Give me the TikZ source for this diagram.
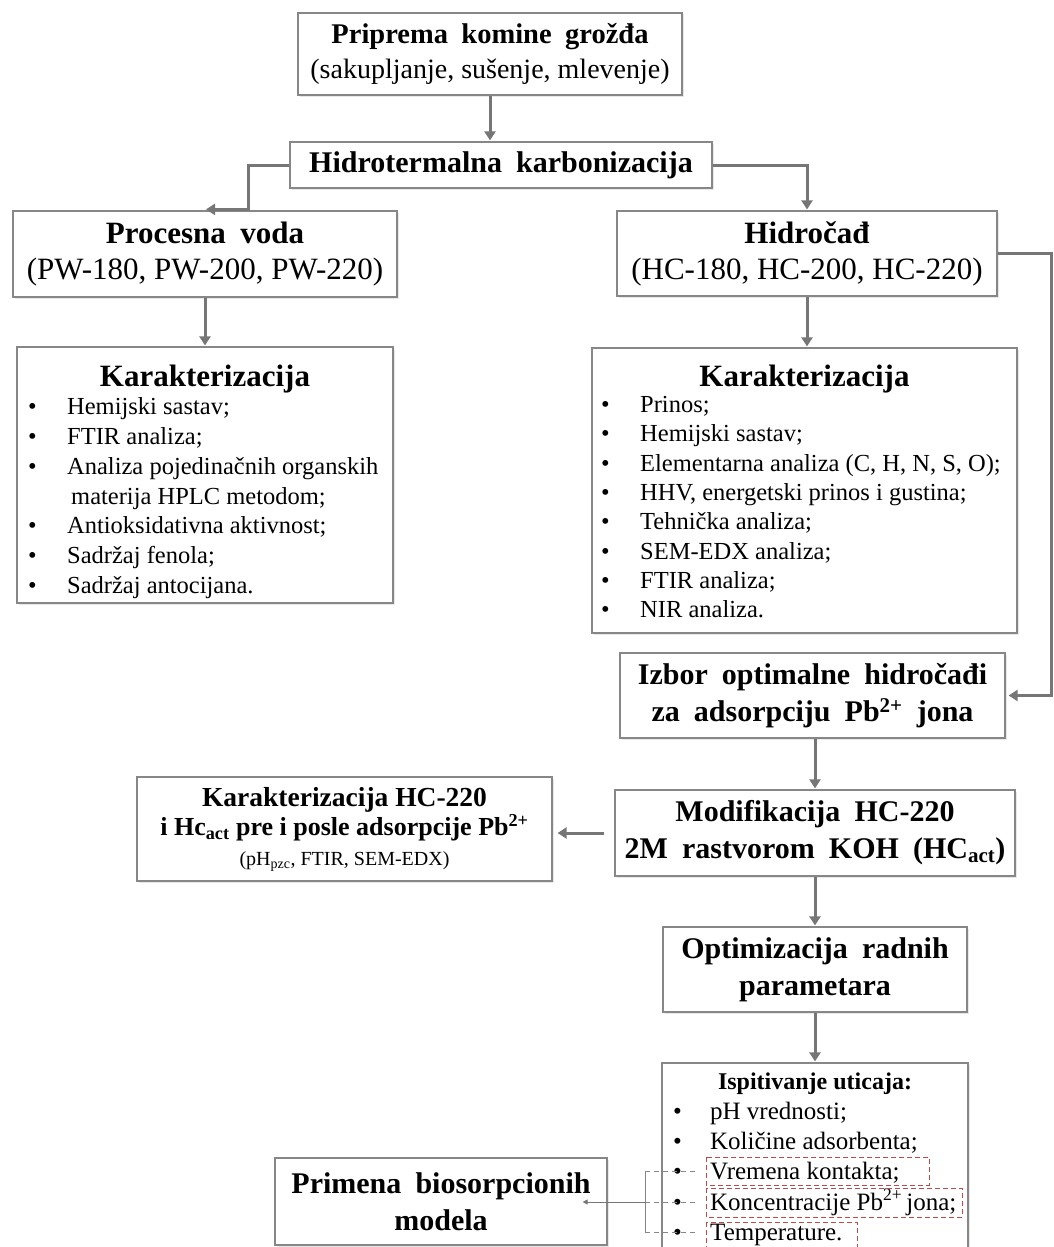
\documentclass[tikz,border=0pt]{standalone}
\usepackage{fontspec}
\setmainfont{Liberation Serif}
\usepackage{tikz}
\usetikzlibrary{positioning, arrows.meta, calc, shadows}
\usepackage{xcolor}
\definecolor{boxgray}{RGB}{135,135,135}
\definecolor{arrowgray}{RGB}{118,118,118}
\definecolor{dashred}{RGB}{185,75,75}
\newcommand{\widesp}{\spaceskip 0.47em\relax}

\begin{document}
\begin{tikzpicture}[
    x=1pt, y=-1pt,
    box/.style={draw=boxgray, line width=1.2pt, fill=white, inner sep=0pt, align=center,
        drop shadow={opacity=0.18, shadow xshift=1.5pt, shadow yshift=-1.5pt}},
    flow/.style={draw=arrowgray, line width=3pt, -{Triangle[width=11pt,length=9pt]}, shorten >=1pt},
    thinflow/.style={draw=arrowgray, line width=1pt, -{Triangle[width=5pt,length=5pt]}},
    bigtext/.style={font=\fontsize{31}{36}\selectfont},
    headtext/.style={font=\fontsize{30}{37}\selectfont\bfseries\widesp},
    listhead/.style={anchor=base, inner sep=0pt, font=\fontsize{31}{36}\selectfont\bfseries},
    item/.style={anchor=base west, inner sep=0pt, font=\fontsize{24.5}{29}\selectfont},
    redbox/.style={draw=dashred, line width=0.8pt, dash pattern=on 5pt off 3pt},
    graydash/.style={draw=boxgray, line width=0.8pt, dash pattern=on 5pt off 4pt}
]
\useasboundingbox (0,0) rectangle (1054,1247);

% =============================
% 0. Priprema i HTC
% =============================
\node[box, minimum width=384pt, minimum height=82pt, font=\fontsize{28}{35}\selectfont] (prep) at (490,54)
    {{\fontsize{28.5}{35}\selectfont\bfseries\widesp Priprema komine grožđa}\\(sakupljanje, sušenje, mlevenje)};
\node[box, minimum width=422pt, minimum height=46pt, font=\fontsize{30}{35}\selectfont\bfseries\widesp] (hidro) at (501,165)
    {Hidrotermalna karbonizacija};

\draw[flow] (prep.south) -- (prep.south |- hidro.north);

% =============================
% 1. Procesna voda (levo)
% =============================
\node[box, bigtext, minimum width=384pt, minimum height=86pt] (voda) at (205,254)
    {{\bfseries\widesp Procesna voda}\\(PW-180, PW-200, PW-220)};
\draw[flow] (hidro.west) -| ([xshift=43pt,yshift=1pt]voda.north) -- ([yshift=1pt]voda.north);

\node[box, minimum width=376pt, minimum height=256pt] (karL) at (205,475) {};
\draw[flow] (voda.south) -- (karL.north);

\node[listhead] (karLt) at (205,386) {Karakterizacija};
\node[item] (l1) at (28,414) {\makebox[39pt][l]{\textbullet}Hemijski sastav;};
\node[item] (l2) at (28,444) {\makebox[39pt][l]{\textbullet}FTIR analiza;};
\node[item] (l3) at (28,474) {\makebox[39pt][l]{\textbullet}Analiza pojedinačnih organskih};
\node[item] (l3b) at (71,504) {materija HPLC metodom;};
\node[item] (l4) at (28,533) {\makebox[39pt][l]{\textbullet}Antioksidativna aktivnost;};
\node[item] (l5) at (28,563) {\makebox[39pt][l]{\textbullet}Sadržaj fenola;};
\node[item] (l6) at (28,593) {\makebox[39pt][l]{\textbullet}Sadržaj antocijana.};

% =============================
% 2. Hidročađ (desno)
% =============================
\node[box, bigtext, minimum width=380pt, minimum height=85pt] (hidrocad) at (807,253.5)
    {\textbf{Hidročađ}\\(HC-180, HC-200, HC-220)};
\draw[flow] (hidro.east) -| (hidrocad.north);

\node[box, minimum width=425pt, minimum height=285pt] (karR) at (804.5,490.5) {};
\draw[flow] (hidrocad.south) -- (hidrocad.south |- karR.north);

\node[listhead] (karRt) at (804.5,386) {Karakterizacija};
\node[item] (r1) at (601,412) {\makebox[39pt][l]{\textbullet}Prinos;};
\node[item] (r2) at (601,441) {\makebox[39pt][l]{\textbullet}Hemijski sastav;};
\node[item] (r3) at (601,471) {\makebox[39pt][l]{\textbullet}Elementarna analiza (C, H, N, S, O);};
\node[item] (r4) at (601,500) {\makebox[39pt][l]{\textbullet}HHV, energetski prinos i gustina;};
\node[item] (r5) at (601,529) {\makebox[39pt][l]{\textbullet}Tehnička analiza;};
\node[item] (r6) at (601,559) {\makebox[39pt][l]{\textbullet}SEM-EDX analiza;};
\node[item] (r7) at (601,588) {\makebox[39pt][l]{\textbullet}FTIR analiza;};
\node[item] (r8) at (601,617) {\makebox[39pt][l]{\textbullet}NIR analiza.};

% =============================
% 3. Izbor i modifikacija
% =============================
\coordinate (redge) at (1051,0);
\node[box, headtext, minimum width=385pt, minimum height=85pt] (izbor) at (812.5,695.5)
    {Izbor optimalne hidročađi\\za adsorpciju Pb\textsuperscript{2+} jona};
\draw[flow] (hidrocad.east) -- (hidrocad.east -| redge) |- ([xshift=2pt]izbor.east);

\node[box, headtext, minimum width=400pt, minimum height=86pt] (modif) at (815,833)
    {Modifikacija HC-220\\2M rastvorom KOH (HC\textsubscript{act})};
\draw[flow] (modif.north |- izbor.south) -- (modif.north);

\node[box, minimum width=415pt, minimum height=104pt, font=\fontsize{27.5}{29.5}\selectfont\bfseries] (karHC) at (344.5,829)
    {Karakterizacija HC-220\\{\fontsize{26}{29.5}\selectfont i Hc\textsubscript{act} pre i posle adsorpcije Pb\textsuperscript{2+}}\\
     {\fontsize{20}{25}\selectfont\mdseries (pH\textsubscript{pzc}, FTIR, SEM-EDX)}};
\draw[flow, shorten <=10pt, shorten >=5pt] (modif.west) -- (modif.west -| karHC.east);

% =============================
% 4. Optimizacija
% =============================
\node[box, headtext, minimum width=304pt, minimum height=85pt] (optim) at (815,969.5)
    {Optimizacija radnih\\parametara};
\draw[flow] (modif.south) -- (optim.north);

\node[box, minimum width=306pt, minimum height=200pt] (ispit) at (815,1163) {};
\draw[flow] (optim.south) -- (ispit.north);

\node[anchor=base, inner sep=0pt, font=\fontsize{24}{29}\selectfont\bfseries] (ispitt) at (815,1089) {Ispitivanje uticaja:};
\node[item, font=\fontsize{25}{30}\selectfont] (i1) at (673,1119) {\makebox[37pt][l]{\textbullet}pH vrednosti;};
\node[item, font=\fontsize{25}{30}\selectfont] (i2) at (673,1149) {\makebox[37pt][l]{\textbullet}Količine adsorbenta;};
\node[item, font=\fontsize{25}{30}\selectfont] (i3) at (673,1179) {\makebox[37pt][l]{\textbullet}Vremena kontakta;};
\node[item, font=\fontsize{25}{30}\selectfont] (i4) at (673,1210) {\makebox[37pt][l]{\textbullet}Koncentracije Pb\textsuperscript{2+}\,jona;};
\node[item, font=\fontsize{25}{30}\selectfont] (i5) at (673,1240) {\makebox[37pt][l]{\textbullet}Temperature.};

\draw[redbox] (706,1157) rectangle (929,1185);
\draw[redbox] (706,1188) rectangle (962,1217);
\draw[redbox] (706,1222) rectangle (857,1260);

% =============================
% 5. Biosorpcioni modeli
% =============================
\node[box, headtext, minimum width=332pt, minimum height=87pt] (primena) at (441,1201.5)
    {Primena biosorpcionih\\modela};

\draw[graydash] ([xshift=-28pt,yshift=8pt]i3.base west) -- ([xshift=24pt,yshift=8pt]i3.base west);
\draw[graydash] ([xshift=-28pt,yshift=8pt]i4.base west) -- ([xshift=24pt,yshift=8pt]i4.base west);
\draw[graydash] ([xshift=-28pt,yshift=8pt]i5.base west) -- ([xshift=24pt,yshift=8pt]i5.base west);
\draw[draw=boxgray, line width=1pt] ([xshift=-28pt,yshift=8pt]i3.base west) -- ([xshift=-28pt,yshift=8pt]i5.base west);
\draw[thinflow, shorten >=3pt] ([xshift=-28pt,yshift=8pt]i4.base west) -- ([xshift=-28pt,yshift=8pt]i4.base west -| primena.east);
\end{tikzpicture}
\end{document}
